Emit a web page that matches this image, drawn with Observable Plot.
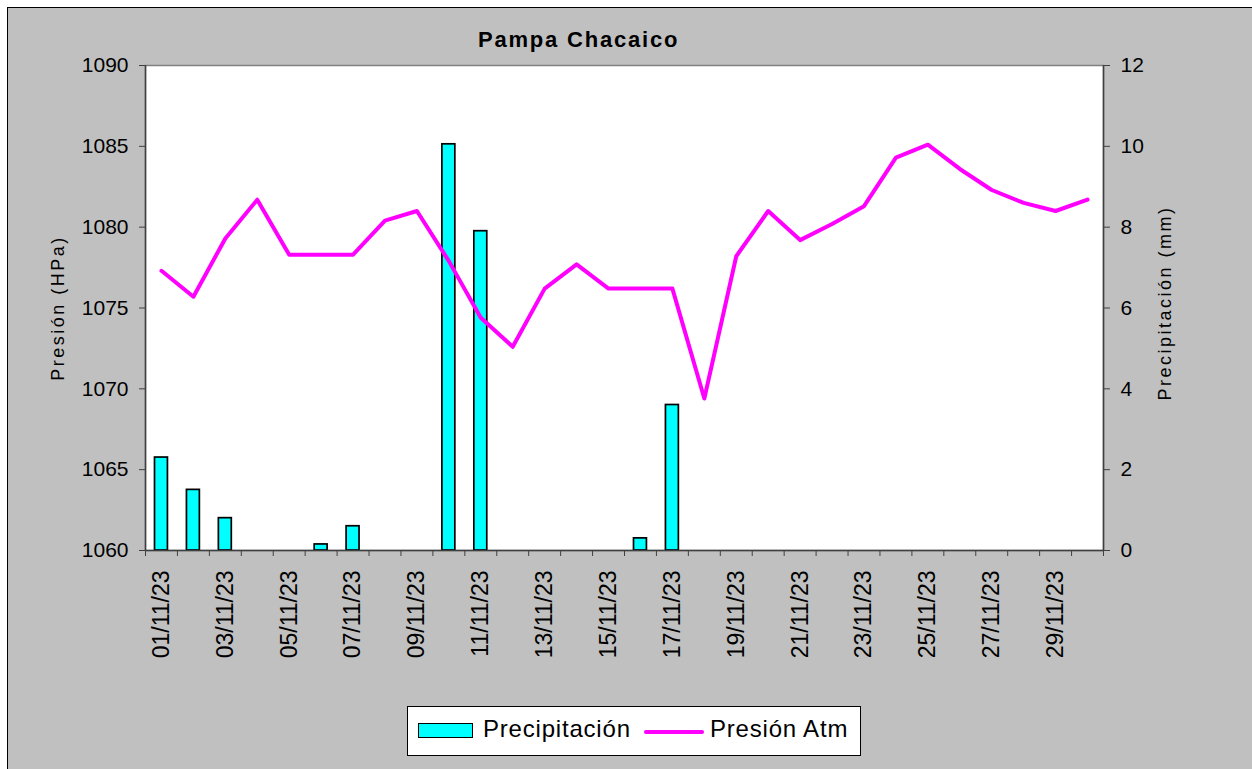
<!DOCTYPE html>
<html><head><meta charset="utf-8">
<script src="https://cdn.jsdelivr.net/npm/d3@7"></script>
<script src="https://cdn.jsdelivr.net/npm/@observablehq/plot@0.6"></script>
<style>
html,body{margin:0;padding:0;background:#fff;overflow:hidden;width:1252px;height:769px;font-family:"Liberation Sans",Arial,sans-serif;}
#frame{position:absolute;left:7px;top:7px;width:1300px;height:800px;background:#c0c0c0;border-top:1.5px solid #000;border-left:1.5px solid #000;}
#title{position:absolute;left:478px;top:29px;font-size:22px;line-height:22px;font-weight:bold;letter-spacing:1.8px;white-space:nowrap;color:#000;}
#chart{position:absolute;left:8px;top:55px;}
#legend{position:absolute;left:407px;top:706px;width:452px;height:48px;border:1px solid #000;background:#fff;}
#legend .sw{position:absolute;left:10px;top:16px;width:53px;height:13px;border:1.6px solid #000;background:#00ffff;}
#legend .ln{position:absolute;left:236px;top:23px;width:60px;height:4px;border-radius:2px;background:#ff00ff;}
#legend .tx{position:absolute;top:10px;font-size:24px;line-height:24px;letter-spacing:0.8px;white-space:nowrap;color:#000;}
</style>
</head><body>
<div id="frame"></div>
<div id="title">Pampa Chacaico</div>
<div id="chart"></div>
<div id="legend">
  <div class="sw"></div><div class="tx" style="left:75px">Precipitación</div>
  <div class="ln"></div><div class="tx" style="left:302px">Presión Atm</div>
</div>
<script>
const dates = ["01/11/23","02/11/23","03/11/23","04/11/23","05/11/23","06/11/23","07/11/23","08/11/23","09/11/23","10/11/23",
  "11/11/23","12/11/23","13/11/23","14/11/23","15/11/23","16/11/23","17/11/23","18/11/23","19/11/23","20/11/23",
  "21/11/23","22/11/23","23/11/23","24/11/23","25/11/23","26/11/23","27/11/23","28/11/23","29/11/23","30/11/23"];
const pressure = [1077.3,1075.7,1079.3,1081.7,1078.3,1078.3,1078.3,1080.4,1081.0,1077.9,
  1074.4,1072.6,1076.2,1077.7,1076.2,1076.2,1076.2,1069.4,1078.2,1081.0,
  1079.2,1080.2,1081.3,1084.3,1085.1,1083.6,1082.3,1081.5,1081.0,1081.7];
const precipitation = [2.3,1.5,0.8,0,0,0.15,0.6,0,0,10.05,
  7.9,0,0,0,0,0.3,3.6,0,0,0,
  0,0,0,0,0,0,0,0,0,0];
const pressureTicks = [1060,1065,1070,1075,1080,1085,1090];
const precipTicks = [0,2,4,6,8,10,12];
const pressureTitle = "Presión (HPa)";
const precipTitle = "Precipitación (mm)";

// map precipitation (mm) onto the pressure scale for the secondary axis
const pMin = 1060, hPaPerMm = 2.5;
const toP = mm => pMin + mm * hPaPerMm;

const rows = dates.map((label, i) => ({day: i + 1, label, pressure: pressure[i], precip: precipitation[i]}));
const bounds = [0, ...rows.map(d => d.day)].map(d => d + 0.5);
const labelDays = rows.filter(d => d.day % 2 === 1).map(d => d.day);

const axisColor = "#404040";
const chart = Plot.plot({
  width: 1244, height: 620,
  marginLeft: 137, marginRight: 149, marginTop: 10, marginBottom: 125,
  style: {fontFamily: '"Liberation Sans", Arial, sans-serif', background: "transparent", color: "#000", overflow: "visible"},
  x: {domain: [0.5, 30.5], label: null},
  y: {domain: [1060, 1090], label: null},
  marks: [
    Plot.frame({fill: "#fff", stroke: "#808080", strokeWidth: 1.5}),
    Plot.rectY(rows.filter(d => d.precip > 0), {
      x1: d => d.day - 0.5, x2: d => d.day + 0.5, y1: pMin, y2: d => toP(d.precip),
      insetLeft: 9.5, insetRight: 9.5, fill: "#00ffff", stroke: "#000", strokeWidth: 1.7
    }),
    Plot.line(rows, {x: "day", y: "pressure", stroke: "#ff00ff", strokeWidth: 4, strokeLinejoin: "round", strokeLinecap: "round"}),
    Plot.ruleX([0.5, 30.5], {stroke: axisColor, strokeWidth: 1.5}),
    Plot.ruleY([1060], {stroke: axisColor, strokeWidth: 1.5}),
    Plot.axisY({anchor: "left", ticks: pressureTicks, tickFormat: d => String(d), tickSize: 6, tickPadding: 11, fontSize: 21, stroke: axisColor, label: null}),
    Plot.axisY({anchor: "right", ticks: precipTicks.map(toP), tickFormat: d => String(Math.round((d - pMin) / hPaPerMm)),
      tickSize: 6, tickPadding: 11, fontSize: 21, stroke: axisColor, label: null}),
    Plot.axisX({ticks: bounds, tickFormat: () => "", tickSize: 6, stroke: axisColor, label: null}),
    Plot.axisX({ticks: labelDays, tickFormat: d => dates[d - 1], tickSize: 0, tickPadding: 20, tickRotate: -90, fontSize: 23, label: null}),
    Plot.text([pressureTitle], {text: d => d, frameAnchor: "left", dx: -87, rotate: -90, textAnchor: "middle", fontSize: 18}),
    Plot.text([precipTitle], {text: d => d, frameAnchor: "right", dx: 62, dy: -5, rotate: -90, textAnchor: "middle", fontSize: 18})
  ]
});
document.getElementById("chart").appendChild(chart);
d3.select(chart).selectAll("text")
  .filter(function() { return this.textContent === pressureTitle || this.textContent === precipTitle; })
  .style("letter-spacing", "2.5px");
</script>
</body></html>
